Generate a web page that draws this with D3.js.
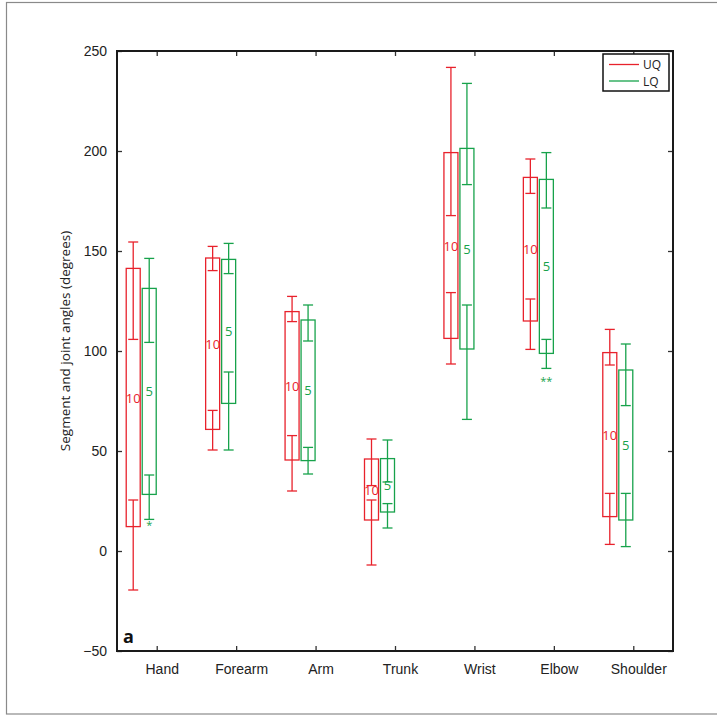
<!DOCTYPE html>
<html>
<head>
<meta charset="utf-8">
<script src="https://cdn.jsdelivr.net/npm/d3@7"></script>
<style>
  html, body { margin: 0; padding: 0; background: #fff; }
  svg { display: block; font-family: "Open Sans", "Noto Sans", sans-serif; }
</style>
</head>
<body>
<svg id="chart" width="717" height="716"></svg>
<script>
// Segment and joint angles per body part, upper (UQ) and lower (LQ) quartile groups
const categories = ["Hand", "Forearm", "Arm", "Trunk", "Wrist", "Elbow", "Shoulder"];
const seriesNames = ["UQ", "LQ"];
const seriesN = [10, 5];

// Box extents
const uqBoxLow  = [12.2, 60.8, 45.5, 15.5, 106.3, 115.0, 17.2];
const uqBoxHigh = [141.3, 146.5, 119.7, 46.0, 199.2, 186.8, 99.2];
const lqBoxLow  = [28.3, 73.8, 45.2, 19.5, 101.0, 98.8, 15.5];
const lqBoxHigh = [131.3, 145.8, 115.5, 46.2, 201.3, 185.8, 90.5];

// Lower error bar (bottom cap -> inner cap) and upper error bar (inner cap -> top cap)
const uqBottom    = [-19.5, 50.5, 30.0, -7.0, 93.5, 100.8, 3.3];
const uqInnerLow  = [25.5, 70.3, 57.7, 25.5, 129.2, 126.0, 28.8];
const uqInnerHigh = [105.8, 140.2, 114.7, 32.7, 167.7, 178.8, 93.0];
const uqTop       = [154.5, 152.3, 127.3, 56.0, 241.8, 196.0, 110.8];

const lqBottom    = [15.8, 50.5, 38.5, 11.5, 65.8, 91.3, 2.2];
const lqInnerLow  = [38.0, 89.5, 51.8, 23.7, 123.0, 105.8, 28.8];
const lqInnerHigh = [104.3, 138.7, 105.0, 34.5, 183.2, 171.5, 72.7];
const lqTop       = [146.3, 153.8, 123.0, 55.5, 233.8, 199.2, 103.5];

// Significance markers
const markCategory = ["Hand", "Elbow"];
const markSeries   = ["LQ", "LQ"];
const markText     = ["*", "**"];
const markValue    = [13.2, 85.2];

const yTicks = [-50, 0, 50, 100, 150, 200, 250];
const colors = { UQ: "#e8222c", LQ: "#17a24b" };

const rows = [];
categories.forEach((c, i) => {
  rows.push({ cat: c, s: "UQ", n: seriesN[0], lo: uqBoxLow[i], hi: uqBoxHigh[i],
              b: uqBottom[i], il: uqInnerLow[i], ih: uqInnerHigh[i], t: uqTop[i] });
  rows.push({ cat: c, s: "LQ", n: seriesN[1], lo: lqBoxLow[i], hi: lqBoxHigh[i],
              b: lqBottom[i], il: lqInnerLow[i], ih: lqInnerHigh[i], t: lqTop[i] });
});

const svg = d3.select("#chart");
const W = 717, H = 716;
const m = { left: 117, top: 51, right: 44, bottom: 65 };
const pw = W - m.left - m.right, ph = H - m.top - m.bottom;

// outer frame
svg.append("rect").attr("x", 6.5).attr("y", 2.5).attr("width", 712).attr("height", 711.5)
  .attr("fill", "none").attr("stroke", "#8a8a8a").attr("stroke-width", 1.2);

const g = svg.append("g").attr("transform", `translate(${m.left},${m.top})`);

const x = d3.scalePoint().domain(categories).range([0, pw]).padding(0.5);
const xs = d3.scaleBand().domain(seriesNames).range([-30.5, -0.5]).paddingInner(0.125);
const y = d3.scaleLinear().domain([-50, 250]).range([ph, 0]);

const fmt = d => d3.format("")(d);
const tickLen = 5;

// axes
const axL = g.append("g").call(d3.axisLeft(y).tickValues(yTicks).tickSize(-tickLen).tickPadding(10).tickFormat(fmt));
const axR = g.append("g").attr("transform", `translate(${pw},0)`).call(d3.axisRight(y).tickValues(yTicks).tickSize(-tickLen).tickFormat(""));
const axB = g.append("g").attr("transform", `translate(0,${ph})`).call(d3.axisBottom(x).tickSize(-tickLen).tickPadding(13));
const axT = g.append("g").call(d3.axisTop(x).tickSize(-tickLen).tickFormat(""));
[axL, axR, axB, axT].forEach(a => {
  a.select(".domain").remove();
  a.selectAll(".tick line").attr("stroke", "#333").attr("stroke-width", 1.3);
  a.selectAll("text").attr("fill", "#222").style("font-size", "14px");
});
axB.selectAll(".tick text").attr("dx", 5);
g.append("rect").attr("width", pw).attr("height", ph)
  .attr("fill", "none").attr("stroke", "#1a1a1a").attr("stroke-width", 2);

// y label
svg.append("text")
  .attr("transform", `translate(70,${m.top + ph / 2 - 10}) rotate(-90)`)
  .attr("text-anchor", "middle").attr("fill", "#222").style("font-size", "13.5px")
  .text("Segment and joint angles (degrees)");

// panel letter
g.append("text").attr("x", 6).attr("y", ph - 8).attr("font-weight", "bold")
  .style("font-size", "18px").attr("fill", "#111").text("a");

// groups
const grp = g.selectAll(".grp").data(rows).join("g")
  .attr("transform", d => `translate(${x(d.cat) + xs(d.s)},0)`)
  .attr("stroke", d => colors[d.s]).attr("fill", "none").attr("stroke-width", 1.3);

const bw = xs.bandwidth();
grp.append("rect").attr("x", 0).attr("width", bw)
  .attr("y", d => y(d.hi)).attr("height", d => y(d.lo) - y(d.hi));

const cx = bw / 2, capHalf = 5;
grp.append("line").attr("x1", cx).attr("x2", cx).attr("y1", d => y(d.b)).attr("y2", d => y(d.il));
grp.append("line").attr("x1", cx).attr("x2", cx).attr("y1", d => y(d.ih)).attr("y2", d => y(d.t));
["b", "il", "ih", "t"].forEach(k => {
  grp.append("line").attr("x1", cx - capHalf).attr("x2", cx + capHalf)
    .attr("y1", d => y(d[k])).attr("y2", d => y(d[k]));
});

grp.append("text").attr("x", cx).attr("y", d => y((d.lo + d.hi) / 2))
  .attr("text-anchor", "middle").attr("dominant-baseline", "central")
  .attr("stroke", "none").attr("fill", d => colors[d.s]).style("font-size", "13px")
  .text(d => d.n);

// significance markers
markText.forEach((t, i) => {
  g.append("text")
    .attr("x", x(markCategory[i]) + xs(markSeries[i]) + bw / 2)
    .attr("y", y(markValue[i]))
    .attr("text-anchor", "middle").attr("dominant-baseline", "central")
    .attr("fill", colors[markSeries[i]]).style("font-size", "11px").text(t);
});

// legend
const lg = svg.append("g").attr("transform", "translate(603,54)");
lg.append("rect").attr("width", 66).attr("height", 37).attr("fill", "#fff")
  .attr("stroke", "#111").attr("stroke-width", 1.5);
seriesNames.forEach((s, i) => {
  const yy = 10.5 + i * 16.5;
  lg.append("line").attr("x1", 6).attr("x2", 36).attr("y1", yy).attr("y2", yy)
    .attr("stroke", colors[s]).attr("stroke-width", 1.3);
  lg.append("text").attr("x", 40).attr("y", yy).attr("dominant-baseline", "central")
    .attr("fill", "#222").style("font-size", "12px").text(s);
});
</script>
</body>
</html>
